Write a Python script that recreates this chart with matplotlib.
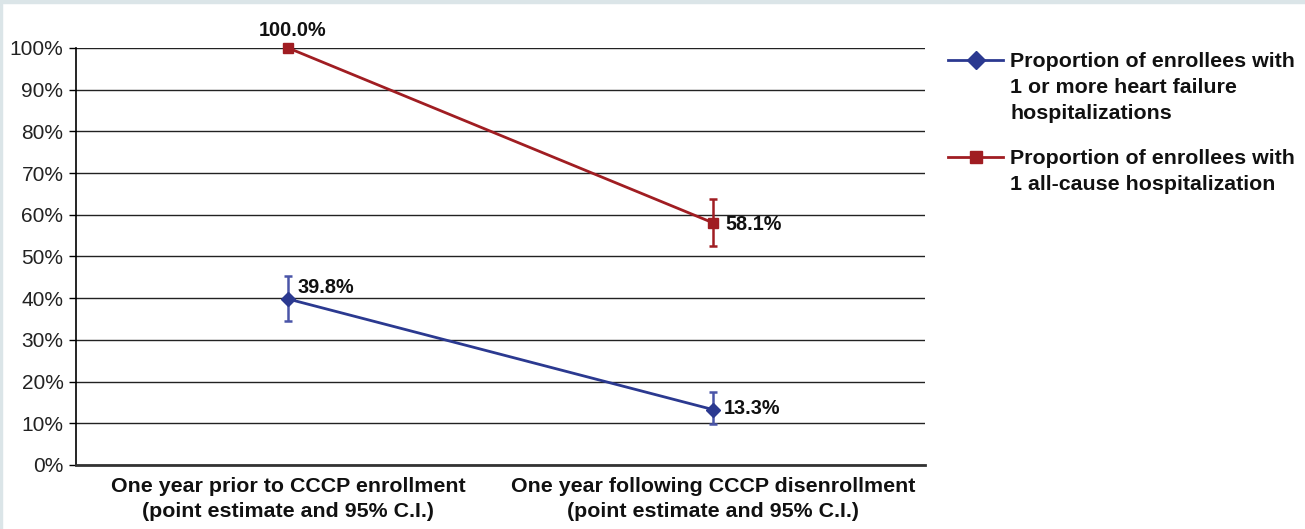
import matplotlib.pyplot as plt
from matplotlib.patches import Rectangle
from matplotlib.lines import Line2D

plt.rcParams['font.family'] = ['Liberation Sans', 'DejaVu Sans']

categories = ["One year prior to CCCP enrollment\n(point estimate and 95% C.I.)",
              "One year following CCCP disenrollment\n(point estimate and 95% C.I.)"]
hf_label = "Proportion of enrollees with\n1 or more heart failure\nhospitalizations"
all_label = "Proportion of enrollees with\n1 all-cause hospitalization"
hf_values = [39.8, 13.3]
hf_lower = [34.6, 9.8]
hf_upper = [45.4, 17.6]
all_values = [100.0, 58.1]
all_lower = [100.0, 52.6]
all_upper = [100.0, 63.8]
y_ticks = [0, 10, 20, 30, 40, 50, 60, 70, 80, 90, 100]

blue = '#2b3990'
blue_err = '#4a55a8'
red = '#a01d22'

W, H = 1305, 529
fig = plt.figure(figsize=(W / 100, H / 100), dpi=100)
fig.patch.set_facecolor('white')
# thin tinted frame along top and left edges
fig.patches.append(Rectangle((0, 0), 2 / W, 1, transform=fig.transFigure,
                             color='#dbe5e8', zorder=0))
fig.patches.append(Rectangle((0, 1 - 3 / H), 1, 3 / H, transform=fig.transFigure,
                             color='#dbe5e8', zorder=0))

ax = fig.add_axes([0.0582, 0.121, 0.6506, 0.7883])
x = [0, 1]

hf_err = [[v - l for v, l in zip(hf_values, hf_lower)],
          [u - v for v, u in zip(hf_values, hf_upper)]]
all_err = [[v - l for v, l in zip(all_values, all_lower)],
           [u - v for v, u in zip(all_values, all_upper)]]

ax.errorbar(x, hf_values, yerr=hf_err, fmt='none', ecolor=blue_err,
            elinewidth=1.8, capsize=3.2, capthick=1.8, zorder=3)
ax.errorbar(x, all_values, yerr=all_err, fmt='none', ecolor=red,
            elinewidth=1.8, capsize=3.2, capthick=1.8, zorder=3)
ax.plot(x, hf_values, color=blue, lw=2, marker='D', ms=7,
        markerfacecolor=blue, markeredgecolor=blue, zorder=4, clip_on=False)
ax.plot(x, all_values, color=red, lw=2, marker='s', ms=7,
        markerfacecolor=red, markeredgecolor=red, zorder=4, clip_on=False)

lab_kw = dict(fontsize=14.3, fontweight='bold', color='#111111')
ax.annotate(f"{all_values[0]:.1f}%", (x[0], all_values[0]), xytext=(3, 5.5),
            textcoords='offset points', ha='center', va='bottom', **lab_kw)
ax.annotate(f"{all_values[1]:.1f}%", (x[1], all_values[1]), xytext=(9, -1),
            textcoords='offset points', ha='left', va='center', **lab_kw)
ax.annotate(f"{hf_values[0]:.1f}%", (x[0], hf_values[0]), xytext=(7, 8),
            textcoords='offset points', ha='left', va='center', **lab_kw)
ax.annotate(f"{hf_values[1]:.1f}%", (x[1], hf_values[1]), xytext=(8, 1),
            textcoords='offset points', ha='left', va='center', **lab_kw)

ax.set_xlim(-0.5, 1.5)
ax.set_ylim(0, 100)
ax.set_yticks(y_ticks)
ax.set_yticklabels([f"{t}%" for t in y_ticks], fontsize=15, color='#222222')
ax.set_xticks(x)
ax.set_xticklabels(categories, fontsize=15.4, fontweight='bold', color='#111111',
                   linespacing=1.4)
ax.tick_params(axis='x', length=0, pad=8.5)
ax.tick_params(axis='y', length=5, width=1, direction='out', pad=4)
ax.yaxis.grid(True, color='#222222', lw=1)
ax.set_axisbelow(True)
for side in ['top', 'right']:
    ax.spines[side].set_visible(False)
ax.spines['left'].set_linewidth(1.2)
ax.spines['bottom'].set_linewidth(2)
ax.spines['bottom'].set_color('#333333')

# legend: handle aligned with the first line of each wrapped label
entries = [(hf_label, blue, 'D', 60), (all_label, red, 's', 157)]
for label, color, marker, ypix in entries:
    yf = 1 - ypix / H
    fig.add_artist(Line2D([948 / W, 1003 / W], [yf, yf], color=color, lw=2,
                          transform=fig.transFigure))
    fig.add_artist(Line2D([975.5 / W], [yf], color=color, marker=marker, ms=9,
                          markerfacecolor=color, markeredgecolor=color,
                          transform=fig.transFigure))
    fig.text(1010 / W, yf + 8 / H, label, ha='left', va='top', fontsize=15.4,
             fontweight='bold', color='#111111', linespacing=1.48)

fig.savefig('out.png', dpi=100, facecolor='white')
